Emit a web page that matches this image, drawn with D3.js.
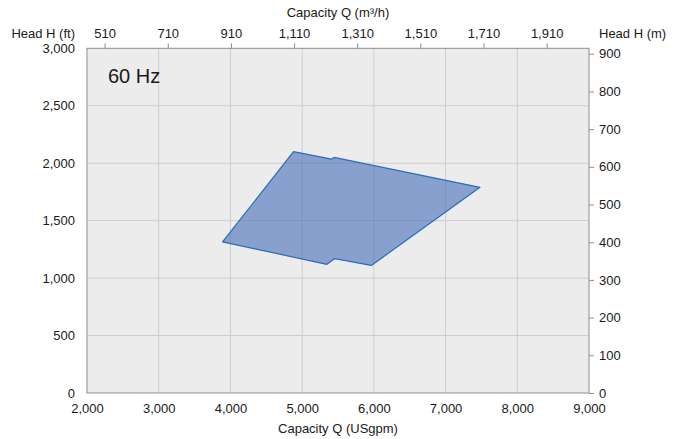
<!DOCTYPE html>
<html>
<head>
<meta charset="utf-8">
<script src="https://cdn.jsdelivr.net/npm/d3@7"></script>
<style>
  body{ margin:0; background:#fff; }
  text{ font-family:"Liberation Sans", Arial, Helvetica, sans-serif; fill:#1a1a1a; }
</style>
</head>
<body>
<div id="chart"></div>
<script>
// Operating envelope (capacity in USgpm, head in ft).
const envelope_q = [ 3890, 4880, 5410, 5445, 7480, 5965, 5455, 5345 ];
const envelope_h = [ 1315, 2100, 2035, 2050, 1790, 1110, 1170, 1120 ];

// Axis ticks.
const q_ticks   = [ 2000, 3000, 4000, 5000, 6000, 7000, 8000, 9000 ];
const h_ticks   = [ 0, 500, 1000, 1500, 2000, 2500, 3000 ];
const m_ticks   = [ 0, 100, 200, 300, 400, 500, 600, 700, 800, 900 ];
const m3h_ticks = [ 510, 710, 910, 1110, 1310, 1510, 1710, 1910 ];

const freq_label = '60 Hz';

// Unit conversions.
const GPM_TO_M3H = 0.227125;
const FT_TO_M = 0.3048;

const width = 683, height = 439;
const margin = { left: 87, right: 94, top: 48.3, bottom: 46 };
const plot_w = width - margin.left - margin.right;
const plot_h = height - margin.top - margin.bottom;

const svg = d3.select( '#chart' ).append( 'svg' )
  .attr( 'width', width )
  .attr( 'height', height );

const g = svg.append( 'g' )
  .attr( 'transform', 'translate(' + margin.left + ',' + margin.top + ')' );

// Scales.
const x_scale = d3.scaleLinear().domain( [ 2000, 9000 ] ).range( [ 0, plot_w ] );
const y_scale = d3.scaleLinear().domain( [ 0, 3000 ] ).range( [ plot_h, 0 ] );
const x2_scale = d3.scaleLinear().domain( x_scale.domain().map( d => d * GPM_TO_M3H ) ).range( [ 0, plot_w ] );
const y2_scale = d3.scaleLinear().domain( y_scale.domain().map( d => d * FT_TO_M ) ).range( [ plot_h, 0 ] );

// Plot background.
g.append( 'rect' )
  .attr( 'width', plot_w )
  .attr( 'height', plot_h )
  .style( 'fill', '#ececec' );

// Gridlines.
g.append( 'g' ).selectAll( 'line' )
  .data( q_ticks.slice( 1, -1 ) )
  .enter().append( 'line' )
    .attr( 'x1', d => x_scale( d ) ).attr( 'x2', d => x_scale( d ) )
    .attr( 'y1', 0 ).attr( 'y2', plot_h )
    .style( 'stroke', '#cdcdcd' ).style( 'stroke-width', 1 );
g.append( 'g' ).selectAll( 'line' )
  .data( h_ticks.slice( 1, -1 ) )
  .enter().append( 'line' )
    .attr( 'x1', 0 ).attr( 'x2', plot_w )
    .attr( 'y1', d => y_scale( d ) ).attr( 'y2', d => y_scale( d ) )
    .style( 'stroke', '#cdcdcd' ).style( 'stroke-width', 1 );

// Envelope polygon.
const pts = envelope_q.map( ( q, i ) => [ x_scale( q ), y_scale( envelope_h[i] ) ] );
g.append( 'path' )
  .attr( 'd', d3.line().curve( d3.curveLinearClosed )( pts ) )
  .style( 'fill', '#3463b4' )
  .style( 'fill-opacity', 0.55 )
  .style( 'stroke', '#2a6db5' )
  .style( 'stroke-width', 1.2 )
  .style( 'stroke-linejoin', 'round' );

// Plot border.
g.append( 'rect' )
  .attr( 'width', plot_w )
  .attr( 'height', plot_h )
  .style( 'fill', 'none' )
  .style( 'stroke', '#8e8e8e' )
  .style( 'stroke-width', 1 );

const fmt = d3.format( ',' );

// Bottom axis (USgpm).
g.append( 'g' )
  .attr( 'transform', 'translate(0,' + plot_h + ')' )
  .call( d3.axisBottom( x_scale ).tickValues( q_ticks ).tickFormat( fmt ).tickSize( 0 ).tickPadding( 11 ) )
  .call( a => a.select( '.domain' ).remove() )
  .selectAll( 'text' ).style( 'font-size', '13px' );

// Left axis (ft).
g.append( 'g' )
  .call( d3.axisLeft( y_scale ).tickValues( h_ticks ).tickFormat( fmt ).tickSize( 0 ).tickPadding( 12 ) )
  .call( a => a.select( '.domain' ).remove() )
  .selectAll( 'text' ).style( 'font-size', '13px' );

// Top axis (m3/h).
g.append( 'g' )
  .call( d3.axisTop( x2_scale ).tickValues( m3h_ticks ).tickFormat( fmt ).tickSize( 5 ).tickPadding( 5 ) )
  .call( a => a.select( '.domain' ).remove() )
  .call( a => a.selectAll( 'line' ).style( 'stroke', '#8e8e8e' ) )
  .selectAll( 'text' ).style( 'font-size', '13px' );

// Right axis (m).
g.append( 'g' )
  .attr( 'transform', 'translate(' + plot_w + ',0)' )
  .call( d3.axisRight( y2_scale ).tickValues( m_ticks ).tickFormat( fmt ).tickSize( 5 ).tickPadding( 5 ) )
  .call( a => a.select( '.domain' ).remove() )
  .call( a => a.selectAll( 'line' ).style( 'stroke', '#8e8e8e' ) )
  .selectAll( 'text' ).style( 'font-size', '13px' );

// Axis titles.
svg.append( 'text' )
  .attr( 'x', margin.left + plot_w / 2 ).attr( 'y', 433 )
  .attr( 'text-anchor', 'middle' ).style( 'font-size', '13px' )
  .text( 'Capacity Q (USgpm)' );
svg.append( 'text' )
  .attr( 'x', margin.left + plot_w / 2 ).attr( 'y', 17 )
  .attr( 'text-anchor', 'middle' ).style( 'font-size', '13px' )
  .text( 'Capacity Q (m³/h)' );
svg.append( 'text' )
  .attr( 'x', 75 ).attr( 'y', 38 )
  .attr( 'text-anchor', 'end' ).style( 'font-size', '13px' )
  .text( 'Head H (ft)' );
svg.append( 'text' )
  .attr( 'x', 599 ).attr( 'y', 38 )
  .attr( 'text-anchor', 'start' ).style( 'font-size', '13px' )
  .text( 'Head H (m)' );

// Frequency label.
g.append( 'text' )
  .attr( 'x', 21 ).attr( 'y', 35 )
  .style( 'font-size', '20px' )
  .text( freq_label );
</script>
</body>
</html>
